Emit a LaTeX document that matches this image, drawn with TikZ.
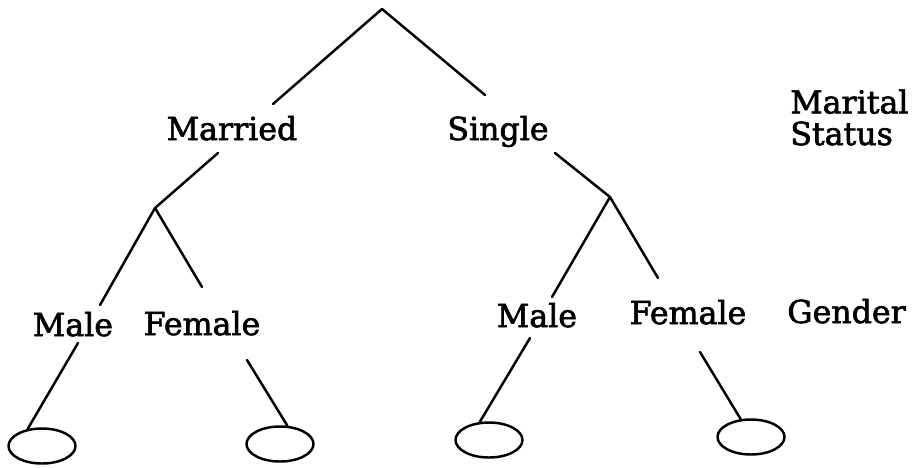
\documentclass[tikz,border=0pt]{standalone}
\usepackage{fontspec}
\setmainfont{DejaVu Serif}
\newfontfamily\treefont[FakeBold=2]{DejaVu Serif}
\usetikzlibrary{calc,shapes.geometric}
\begin{document}
\begin{tikzpicture}[x=0.02cm,y=-0.02cm,
  lbl/.style={anchor=base,inner sep=0pt,font=\treefont\fontsize{18}{18}\selectfont},
  leaf/.style={draw,ellipse,line width=1.4pt,inner sep=0pt,minimum width=1.34cm,minimum height=0.7cm},
  edge/.style={line width=1.4pt,line cap=round,line join=miter}]
  \useasboundingbox (0,0) rectangle (913,467);

  % branching points
  \coordinate (root) at (382,9);
  \coordinate (j1) at (155,208);
  \coordinate (j2) at (610,197);

  % labels
  \node[lbl] (married) at (232,140) {Married};
  \node[lbl] (single)  at (498,140) {Single};
  \node[lbl] (maleL)   at (73,336)  {Male};
  \node[lbl] (femaleL) at (202,335) {Female};
  \node[lbl] (maleR)   at (537,327) {Male};
  \node[lbl] (femaleR) at (688,324) {Female};
  \node[lbl,anchor=base west,align=left] (status) at (790,145) {Marital\\Status};
  \node[lbl,anchor=base west] (gender) at (787,323) {Gender};

  % leaves
  \node[leaf] (e1) at (42,446) {};
  \node[leaf] (e2) at (280,444) {};
  \node[leaf] (e3) at (489,440) {};
  \node[leaf] (e4) at (751,437) {};

  % connectors
  \draw[edge] (root) -- ($(married.base)+(41,-36)$);
  \draw[edge] (root) -- ($(single.base)+(-13,-45)$);
  \draw[edge] ($(married.base)+(-14,13)$) -- (j1);
  \draw[edge] ($(single.base)+(57,13)$) -- (j2);
  \draw[edge] (j1) -- ($(maleL.base)+(27,-31)$);
  \draw[edge] (j1) -- ($(femaleL.base)+(0,-48)$);
  \draw[edge] (j2) -- ($(maleR.base)+(15,-30)$);
  \draw[edge] (j2) -- ($(femaleR.base)+(-30,-46)$);
  \draw[edge] ($(maleL.base)+(5,7)$) -- (e1.130);
  \draw[edge] ($(femaleL.base)+(45,25)$) -- (e2.68);
  \draw[edge] ($(maleR.base)+(-7,11)$) -- (e3.117);
  \draw[edge] ($(femaleR.base)+(12,28)$) -- (e4.120);
\end{tikzpicture}
\end{document}
